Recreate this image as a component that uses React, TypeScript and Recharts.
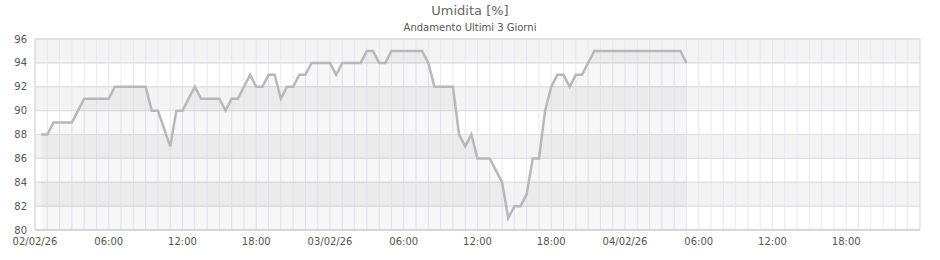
import { ComposedChart, Area, XAxis, YAxis, CartesianGrid, ReferenceArea } from "recharts";

// hours since 02/02/26 00:00
const HOURS = [
  0.5, 1, 1.5, 2, 2.5, 3, 3.5, 4, 4.5, 5, 5.5, 6, 6.5, 7, 7.5, 8, 8.5, 9, 9.5, 10,
  11, 11.5, 12, 12.5, 13, 13.5, 14, 14.5, 15, 15.5, 16, 16.5, 17, 17.5, 18, 18.5, 19, 19.5, 20,
  20.5, 21, 21.5, 22, 22.5, 23, 23.5, 24, 24.5, 25, 25.5, 26, 26.5, 27, 27.5, 28, 28.5, 29,
  29.5, 30, 30.5, 31, 31.5, 32, 32.5, 33, 33.5, 34, 34.5, 35, 35.5, 36, 36.5, 37, 37.5, 38,
  38.5, 39, 39.5, 40, 40.5, 41, 41.5, 42, 42.5, 43, 43.5, 44, 44.5, 45, 45.5, 46, 46.5, 47,
  47.5, 48, 48.5, 49, 49.5, 50, 50.5, 51, 51.5, 52, 52.5, 53,
];

const HUMIDITY = [
  88, 88, 89, 89, 89, 89, 90, 91, 91, 91, 91, 91, 92, 92, 92, 92, 92, 92, 90, 90,
  87, 90, 90, 91, 92, 91, 91, 91, 91, 90, 91, 91, 92, 93, 92, 92, 93, 93, 91,
  92, 92, 93, 93, 94, 94, 94, 94, 93, 94, 94, 94, 94, 95, 95, 94, 94, 95,
  95, 95, 95, 95, 95, 94, 92, 92, 92, 92, 88, 87, 88, 86, 86, 86, 85, 84,
  81, 82, 82, 83, 86, 86, 90, 92, 93, 93, 92, 93, 93, 94, 95, 95, 95, 95,
  95, 95, 95, 95, 95, 95, 95, 95, 95, 95, 95, 94,
];

const X_TICKS = [0, 6, 12, 18, 24, 30, 36, 42, 48, 54, 60, 66];
const X_LABELS = [
  "02/02/26", "06:00", "12:00", "18:00",
  "03/02/26", "06:00", "12:00", "18:00",
  "04/02/26", "06:00", "12:00", "18:00",
];
const Y_TICKS = [80, 82, 84, 86, 88, 90, 92, 94, 96];

const data = HOURS.map((h, i) => ({ h, v: HUMIDITY[i] }));
const hourLines = Array.from({ length: 73 }, (_, i) => i);

const FONT = "'DejaVu Sans', sans-serif";

const App = () => {
  return (
    <div style={{ position: "absolute", left: 0, top: 0, width: 940, height: 260, background: "#fff", fontFamily: FONT }}>
      <div style={{ position: "absolute", top: 3, width: 940, textAlign: "center", fontSize: 13, color: "#666" }}>
        Umidita [%]
      </div>
      <div style={{ position: "absolute", top: 22, width: 940, textAlign: "center", fontSize: 10, color: "#555" }}>
        Andamento Ultimi 3 Giorni
      </div>
      <ComposedChart width={940} height={260} data={data} margin={{ top: 39, right: 20, left: 0, bottom: 0 }}>
        <CartesianGrid
          vertical={false}
          horizontalValues={Y_TICKS}
          stroke="#e0e0e0"
          horizontalFill={["#f3f3f3", "#ffffff"]}
          fillOpacity={1}
        />
        <CartesianGrid horizontal={false} verticalValues={hourLines} stroke="#e6e6f6" />
        <CartesianGrid vertical={false} horizontalValues={Y_TICKS} stroke="#e0e0e0" />
        <XAxis
          dataKey="h"
          type="number"
          domain={[0, 72]}
          ticks={X_TICKS}
          tickFormatter={(t: number) => X_LABELS[X_TICKS.indexOf(t)]}
          tickLine={false}
          height={30}
          axisLine={{ stroke: "#ccc" }}
          tick={{ fontSize: 10, fill: "#555", fontFamily: FONT }}
          interval={0}
        />
        <YAxis
          type="number"
          domain={[80, 96]}
          ticks={Y_TICKS}
          width={35}
          tickLine={false}
          axisLine={{ stroke: "#ddd" }}
          tick={{ fontSize: 10, fill: "#555", fontFamily: FONT }}
          interval={0}
        />
        <Area
          type="linear"
          dataKey="v"
          stroke="#b8b8b8"
          strokeWidth={2.5}
          fill="#000"
          fillOpacity={0.03}
          dot={false}
          activeDot={false}
          isAnimationActive={false}
        />
        <ReferenceArea x1={0} x2={72} y1={80} y2={96} fill="none" stroke="#ddd" />
      </ComposedChart>
    </div>
  );
};

export default App;
